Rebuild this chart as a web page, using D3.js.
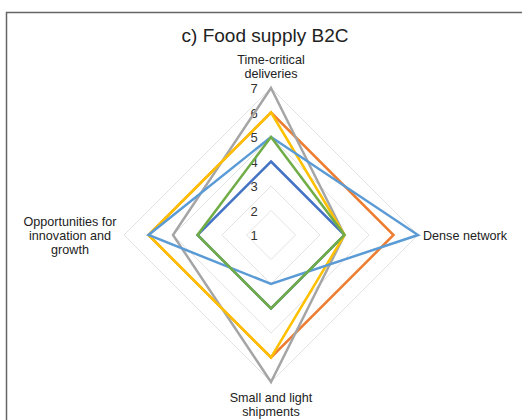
<!DOCTYPE html>
<html>
<head>
<meta charset="utf-8">
<script src="https://cdn.jsdelivr.net/npm/d3@7"></script>
<style>
  body { margin: 0; background: #fff; }
  text { font-family: "Liberation Sans", Arial, sans-serif; }
</style>
</head>
<body>
<div id="chart"></div>
<script>
var svgWidth = 522;
var svgHeight = 420;

// Axes (clockwise from top) and values per series
var axes = ["Time-critical deliveries", "Dense network", "Small and light shipments", "Opportunities for innovation and growth"];
var ticks = [1, 2, 3, 4, 5, 6, 7];
var seriesColors = ["#4472C4", "#ED7D31", "#A5A5A5", "#FFC000", "#5B9BD5", "#70AD47"];
var s1 = [4, 4, 4, 4];
var s2 = [6, 6, 6, 6];
var s3 = [7, 4, 7, 5];
var s4 = [6, 4, 6, 6];
var s5 = [5, 7, 3, 6];
var s6 = [5, 4, 4, 4];
var series = [s1, s2, s3, s4, s5, s6];

var cx = 271, cy = 235;

var svg = d3.select("#chart")
    .append("svg")
    .attr("width", svgWidth)
    .attr("height", svgHeight);

// chart frame (only top and left show in the crop)
svg.append("rect")
    .attr("x", 6.5)
    .attr("y", 12.5)
    .attr("width", 600)
    .attr("height", 500)
    .attr("fill", "none")
    .attr("stroke", "#666")
    .attr("stroke-width", 1.5);

svg.append("text")
    .attr("x", 265)
    .attr("y", 42)
    .attr("text-anchor", "middle")
    .style("font-size", "19px")
    .style("fill", "#222")
    .text("c) Food supply B2C");

var r = d3.scaleLinear().domain([1, 7]).range([0, 147]);
var angle = d3.scalePoint().domain(d3.range(axes.length)).range([0, 2 * Math.PI * (axes.length - 1) / axes.length]);

var g = svg.append("g").attr("transform", `translate(${cx}, ${cy})`);

var radial = d3.lineRadial()
    .angle((d, i) => angle(i))
    .radius(d => r(d))
    .curve(d3.curveLinearClosed);

// gridlines
g.selectAll(".grid")
    .data(ticks.slice(1))
    .enter()
    .append("path")
    .attr("class", "grid")
    .attr("d", t => radial(axes.map(() => t)))
    .attr("fill", "none")
    .attr("stroke", "#e3e3e3")
    .attr("stroke-width", 1);

// tick labels
g.selectAll(".tick")
    .data(ticks)
    .enter()
    .append("text")
    .attr("class", "tick")
    .attr("x", -17)
    .attr("y", t => -r(t) + 5)
    .attr("text-anchor", "middle")
    .style("font-size", "13px")
    .style("fill", "#333")
    .text(t => t);

// series
g.selectAll(".series")
    .data(series)
    .enter()
    .append("path")
    .attr("class", "series")
    .attr("d", d => radial(d))
    .attr("fill", "none")
    .attr("stroke", (d, i) => seriesColors[i])
    .attr("stroke-width", 2.5)
    .attr("stroke-linejoin", "miter");

// axis labels
function addLabel(lines, x, y, anchor) {
    var t = svg.append("text")
        .attr("text-anchor", anchor)
        .style("font-size", "12.6px")
        .style("fill", "#222");
    lines.forEach(function(l, i) {
        t.append("tspan").attr("x", x).attr("y", y + i * 14).text(l);
    });
}
addLabel(["Time-critical", "deliveries"], cx, 64, "middle");
addLabel(["Dense network"], 423, 240, "start");
addLabel(["Small and light", "shipments"], cx, 402, "middle");
addLabel(["Opportunities for", "innovation and", "growth"], 70, 226, "middle");
</script>
</body>
</html>
